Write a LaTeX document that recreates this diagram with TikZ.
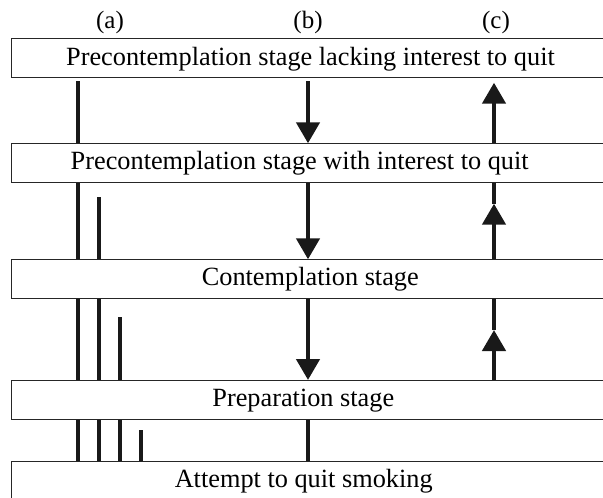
\documentclass[tikz,border=0pt]{standalone}
\usepackage{fontspec}
\setmainfont{Liberation Serif}
\usetikzlibrary{arrows.meta,calc}
\begin{document}
\begin{tikzpicture}[x=1pt,y=-1pt,
  stagebox/.style={draw=black!85, line width=1pt, fill=white, inner sep=0pt,
    minimum width=600pt, anchor=north west},
  stagetext/.style={font=\fontsize{26.3}{30}\selectfont, anchor=base, inner sep=0pt},
  collabel/.style={font=\fontsize{25}{29}\selectfont, anchor=base, inner sep=0pt},
  conn/.style={line width=4.5pt, black!90},
  tipped/.style={conn, -{Triangle[width=23pt,length=21pt]}},
  abar/.style={line width=4pt, black!90},
  abarthin/.style={line width=3.4pt, black!90}]
\useasboundingbox (0,0) rectangle (603,498);
\clip (0,0) rectangle (603,498);

% column labels
\node[collabel] (la) at (110,28.5) {(a)};
\node[collabel] (lb) at (308,28.5) {(b)};
\node[collabel] (lc) at (496,28.5) {(c)};

% stage boxes
\node[stagebox, minimum height=38.4pt] (s1) at (10.7,38.3) {};
\node[stagebox, minimum height=38.4pt] (s2) at (10.7,143.3) {};
\node[stagebox, minimum height=39pt] (s3) at (10.7,259.3) {};
\node[stagebox, minimum height=39pt] (s4) at (10.7,380) {};
\node[stagebox, minimum height=45pt] (s5) at (10.7,461) {};

% stage texts
\node[stagetext] (t1) at (310.5,65) {Precontemplation stage lacking interest to quit};
\node[stagetext] (t2) at (299.7,169.3) {Precontemplation stage with interest to quit};
\node[stagetext] (t3) at (310.3,285.6) {Contemplation stage};
\node[stagetext] (t4) at (303.3,406.3) {Preparation stage};
\node[stagetext] (t5) at (303.7,487.3) {Attempt to quit smoking};

% column positions
\coordinate (ca1) at (78,0);
\coordinate (ca2) at (99,0);
\coordinate (ca3) at (120,0);
\coordinate (ca4) at (141,0);
\coordinate (cb) at (308,0);
\coordinate (cc) at (494,0);
\coordinate (a2top) at (99,197);
\coordinate (a3top) at (120,317);
\coordinate (a4top) at (141,430);
\coordinate (c2tip) at ($(cc |- s2.south)+(0,21)$);
\coordinate (c3tip) at ($(cc |- s3.south)+(0,30.7)$);

% (a) bars
\draw[abar] ($(ca1 |- s1.south)+(0,3.5)$) -- (ca1 |- s2.north);
\draw[abar] (ca1 |- s2.south) -- (ca1 |- s3.north);
\draw[abar] (ca1 |- s3.south) -- (ca1 |- s4.north);
\draw[abar] (ca1 |- s4.south) -- (ca1 |- s5.north);
\draw[abar] (a2top) -- (ca2 |- s3.north);
\draw[abar] (ca2 |- s3.south) -- (ca2 |- s4.north);
\draw[abar] (ca2 |- s4.south) -- (ca2 |- s5.north);
\draw[abarthin] (a3top) -- (ca3 |- s4.north);
\draw[abarthin] (ca3 |- s4.south) -- (ca3 |- s5.north);
\draw[abarthin] (a4top) -- (ca4 |- s5.north);

% (b) arrows
\draw[tipped] ($(cb |- s1.south)+(0,3.5)$) -- (cb |- s2.north);
\draw[tipped] (cb |- s2.south) -- (cb |- s3.north);
\draw[tipped] (cb |- s3.south) -- (cb |- s4.north);
\draw[conn] (cb |- s4.south) -- (cb |- s5.north);

% (c) arrows
\draw[tipped] (cc |- s2.north) -- ($(cc |- s1.south)+(0,5)$);
\draw[tipped] (cc |- s3.north) -- (c2tip);
\draw[conn] (c2tip) -- (cc |- s2.south);
\draw[tipped] (cc |- s4.north) -- (c3tip);
\draw[conn] (c3tip) -- (cc |- s3.south);
\end{tikzpicture}
\end{document}
